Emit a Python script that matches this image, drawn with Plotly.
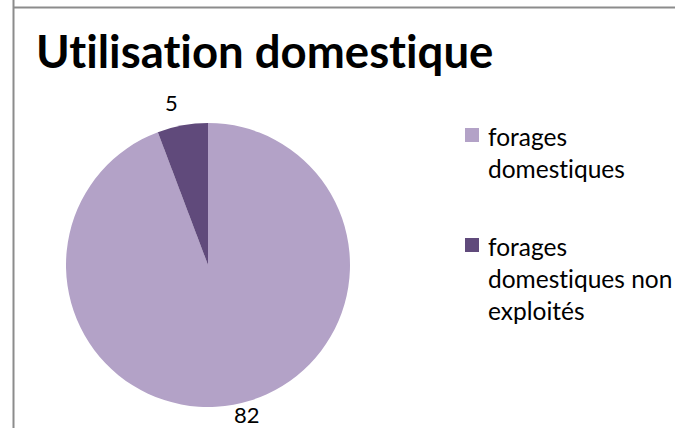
import math

import plotly.graph_objects as go

# Forages à usage domestique
categories = ["forages domestiques", "forages domestiques non exploités"]
legend_lines = [["forages", "domestiques"], ["forages", "domestiques non", "exploités"]]
values = [82, 5]
colors = ["#B3A2C7", "#604A7B"]

W, H = 675, 428
NOLIG = "font-variant-ligatures:none"


def plain(text):
    """Render text without the font's discretionary ligatures."""
    return f'<span style="{NOLIG}">{text}</span>'


# Pie placement in pixels (centre and radius)
pie_cx, pie_cy, pie_r = 208, 265, 142

fig = go.Figure(
    go.Pie(
        labels=categories,
        values=values,
        marker=dict(colors=colors, line=dict(width=0)),
        sort=False,
        direction="clockwise",
        rotation=0,
        textinfo="none",
        automargin=False,
        hovertemplate="%{label}: %{value}<extra></extra>",
        domain=dict(
            x=[(pie_cx - pie_r) / W, (pie_cx + pie_r) / W],
            y=[1 - (pie_cy + pie_r) / H, 1 - (pie_cy - pie_r) / H],
        ),
        showlegend=False,
    )
)

annotations = []

# Value labels: anchored on the rim at each slice's mid-angle, nudged outward
label_nudge = [(14, 10), (-11, -23)]
total = sum(values)
start = 0.0
for v, (dx, dy) in zip(values, label_nudge):
    mid = 2 * math.pi * (start + v / 2) / total  # clockwise from 12 o'clock
    start += v
    px = pie_cx + pie_r * math.sin(mid)
    py = pie_cy - pie_r * math.cos(mid)
    annotations.append(dict(
        text=str(v), xref="paper", yref="paper",
        x=px / W, y=1 - py / H, xanchor="center", yanchor="middle",
        xshift=dx, yshift=-dy, showarrow=False,
        font=dict(family="Lato", size=22, color="#000000"),
    ))

# Legend drawn as keys + text blocks on the right
legend_x = 465
key_size = 14
legend_tops = [128, 238]
shapes = []
for color, lines, top in zip(colors, legend_lines, legend_tops):
    shapes.append(dict(
        type="rect", xref="paper", yref="paper",
        x0=legend_x / W, x1=(legend_x + key_size) / W,
        y0=1 - (top + key_size) / H, y1=1 - top / H,
        fillcolor=color, line=dict(width=0),
    ))
    annotations.append(dict(
        text=plain("<br>".join(lines)),
        xref="paper", yref="paper",
        x=(legend_x + 21) / W, xanchor="left",
        y=1 - (top - 8) / H, yanchor="top",
        align="left", showarrow=False,
        font=dict(family="Lato", size=24.5, color="#000000"),
    ))

grey = "#8C8C8C"
shapes += [
    dict(type="line", xref="paper", yref="paper", x0=13.5 / W, x1=13.5 / W, y0=0, y1=1,
         line=dict(color=grey, width=2)),
    dict(type="line", xref="paper", yref="paper", x0=13 / W, x1=1, y0=1 - 7.5 / H, y1=1 - 7.5 / H,
         line=dict(color=grey, width=2)),
]

fig.update_layout(
    width=W,
    height=H,
    margin=dict(l=0, r=0, t=0, b=0, autoexpand=False),
    paper_bgcolor="#FFFFFF",
    plot_bgcolor="#FFFFFF",
    font=dict(family="Lato", color="#000000"),
    showlegend=False,
    title=dict(
        text="<b>" + plain("Utilisation domestique") + "</b>",
        font=dict(family="Lato", size=45.5, color="#000000"),
        x=36 / W,
        xanchor="left",
        xref="paper",
        y=1 - 52 / H,
        yanchor="middle",
        yref="paper",
    ),
    shapes=shapes,
    annotations=annotations,
)

fig.write_html("out.html")
